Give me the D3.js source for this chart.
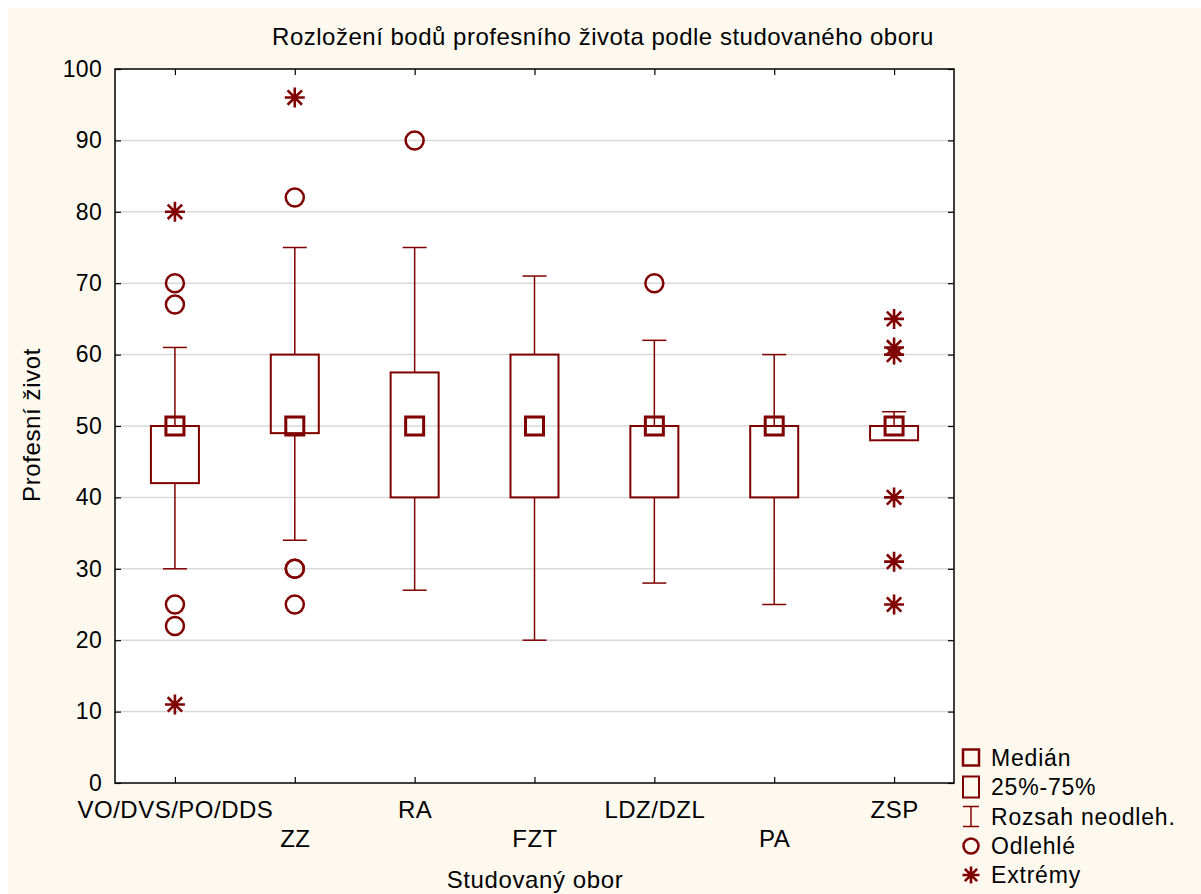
<!DOCTYPE html>
<html>
<head>
<meta charset="utf-8">
<script src="https://cdn.jsdelivr.net/npm/d3@7"></script>
<style>
  html, body { margin: 0; padding: 0; background: #ffffff; }
  svg { display: block; }
  text { font-family: Arial, "Liberation Sans", sans-serif; fill: #000; }
</style>
</head>
<body>
<svg id="chart" width="1201" height="894"></svg>
<script>
// ---- data ----
const categories = ["VO/DVS/PO/DDS", "ZZ", "RA", "FZT", "LDZ/DZL", "PA", "ZSP"];
const medians    = [50, 50, 50, 50, 50, 50, 50];
const q1         = [42, 49, 40, 40, 40, 40, 48];
const q3         = [50, 60, 57.5, 60, 50, 50, 50];
const whiskerLow = [30, 34, 27, 20, 28, 25, 48];
const whiskerHigh= [61, 75, 75, 71, 62, 60, 52];
const outliers   = [[70, 67, 25, 22], [82, 30, 30, 25], [90], [], [70], [], []];
const extremes   = [[80, 11], [96], [], [], [], [], [65, 61, 60, 40, 31, 25]];
const yTicks     = [0, 10, 20, 30, 40, 50, 60, 70, 80, 90, 100];
const legendLabels = ["Medián", "25%-75%", "Rozsah neodleh.", "Odlehlé", "Extrémy"];
const titleText  = "Rozložení bodů profesního života podle studovaného oboru";
const xTitle     = "Studovaný obor";
const yTitle     = "Profesní život";

// ---- layout ----
const C = "#800000";
const svg = d3.select("#chart");
const L = 115, R = 954, T = 69, B = 783;

svg.append("rect").attr("x", 8).attr("y", 8).attr("width", 1201 - 8).attr("height", 894 - 8)
  .attr("fill", "#fef9ef");
svg.append("rect").attr("x", L).attr("y", T).attr("width", R - L).attr("height", B - T)
  .attr("fill", "#ffffff");

const x = d3.scalePoint().domain(categories).range([L, R]).padding(0.5);
const y = d3.scaleLinear().domain([0, 100]).range([B, T]);

// gridlines
svg.append("g").selectAll("line").data(yTicks.filter(d => d > 0 && d < 100)).join("line")
  .attr("x1", L).attr("x2", R).attr("y1", d => y(d)).attr("y2", d => y(d))
  .attr("stroke", "#d9d9d9").attr("stroke-width", 1.5);

// axes
const gl = svg.append("g").attr("transform", `translate(${L},0)`)
  .call(d3.axisLeft(y).tickValues(yTicks).tickSize(-6).tickPadding(13));
gl.selectAll("text").style("font-size", "23px").style("letter-spacing", "0.3px");
const gr = svg.append("g").attr("transform", `translate(${R},0)`)
  .call(d3.axisRight(y).tickValues(yTicks).tickSize(-6).tickFormat(""));
const gt = svg.append("g").attr("transform", `translate(0,${T})`)
  .call(d3.axisTop(x).tickSize(-6).tickFormat(""));
const gb = svg.append("g").attr("transform", `translate(0,${B})`)
  .call(d3.axisBottom(x).tickSize(-6));
gb.selectAll("text").style("font-size", "24px").style("letter-spacing", "0.5px").attr("dy", null)
  .attr("y", (d, i) => i % 2 === 0 ? 35 : 64);
[gl, gr, gt, gb].forEach(g => {
  g.select(".domain").remove();
  g.selectAll("line").attr("stroke", "#000").attr("stroke-width", 1.2);
});

// frame
svg.append("rect").attr("x", L).attr("y", T).attr("width", R - L).attr("height", B - T)
  .attr("fill", "none").attr("stroke", "#000").attr("stroke-width", 1.5);

// boxes
const boxes = svg.append("g");
categories.forEach((c, i) => {
  const cx = x(c);
  const g = boxes.append("g");
  // whiskers
  g.append("line").attr("x1", cx).attr("x2", cx).attr("y1", y(q3[i])).attr("y2", y(whiskerHigh[i]))
    .attr("stroke", C).attr("stroke-width", 1.5);
  g.append("line").attr("x1", cx).attr("x2", cx).attr("y1", y(q1[i])).attr("y2", y(whiskerLow[i]))
    .attr("stroke", C).attr("stroke-width", 1.5);
  [whiskerHigh[i], whiskerLow[i]].forEach(v => {
    g.append("line").attr("x1", cx - 12).attr("x2", cx + 12).attr("y1", y(v)).attr("y2", y(v))
      .attr("stroke", C).attr("stroke-width", 1.5);
  });
  // box
  g.append("rect").attr("x", cx - 24).attr("width", 48)
    .attr("y", y(q3[i])).attr("height", y(q1[i]) - y(q3[i]))
    .attr("fill", "none").attr("stroke", C).attr("stroke-width", 2);
  // median
  g.append("rect").attr("x", cx - 9).attr("y", y(medians[i]) - 9).attr("width", 18).attr("height", 18)
    .attr("fill", "none").attr("stroke", C).attr("stroke-width", 3);
  // outliers
  g.selectAll("circle").data(outliers[i]).join("circle")
    .attr("cx", cx).attr("cy", d => y(d)).attr("r", 9)
    .attr("fill", "none").attr("stroke", C).attr("stroke-width", 2.5);
  // extremes
  g.selectAll("path.ext").data(extremes[i]).join("path").attr("class", "ext")
    .attr("transform", d => `translate(${cx},${y(d)})`)
    .attr("d", asterisk(10))
    .attr("fill", "none").attr("stroke", C).attr("stroke-width", 2.6);
});

function asterisk(s) {
  const d = s * 0.72;
  return `M0,${-s}V${s}M${-s},0H${s}M${-d},${-d}L${d},${d}M${-d},${d}L${d},${-d}`;
}

// titles
svg.append("text").attr("x", 603).attr("y", 45).attr("text-anchor", "middle")
  .style("font-size", "24px").style("letter-spacing", "0.5px").text(titleText);
svg.append("text").attr("x", 535).attr("y", 888).attr("text-anchor", "middle")
  .style("font-size", "24px").style("letter-spacing", "0.6px").text(xTitle);
svg.append("text").attr("transform", "translate(40,425) rotate(-90)").attr("text-anchor", "middle")
  .style("font-size", "24px").style("letter-spacing", "0.6px").text(yTitle);

// legend
const lg = svg.append("g");
const lx = 971;
const rows = [757.5, 787, 816.5, 846, 875];
lg.append("rect").attr("x", lx - 8).attr("y", rows[0] - 8).attr("width", 16).attr("height", 16)
  .attr("fill", "none").attr("stroke", C).attr("stroke-width", 2.5);
lg.append("rect").attr("x", lx - 8).attr("y", rows[1] - 10.5).attr("width", 16).attr("height", 21)
  .attr("fill", "none").attr("stroke", C).attr("stroke-width", 2);
lg.append("path").attr("d", `M${lx},${rows[2] - 10}V${rows[2] + 10}M${lx - 8},${rows[2] - 10}H${lx + 8}M${lx - 8},${rows[2] + 10}H${lx + 8}`)
  .attr("fill", "none").attr("stroke", C).attr("stroke-width", 1.5);
lg.append("circle").attr("cx", lx).attr("cy", rows[3]).attr("r", 7.5)
  .attr("fill", "none").attr("stroke", C).attr("stroke-width", 2.5);
lg.append("path").attr("transform", `translate(${lx},${rows[4]})`).attr("d", asterisk(8.5))
  .attr("fill", "none").attr("stroke", C).attr("stroke-width", 2.6);
lg.selectAll("text").data(legendLabels).join("text")
  .attr("x", 991).attr("y", (d, i) => rows[i] + 8)
  .style("font-size", "23px").style("letter-spacing", "0.8px").text(d => d);
</script>
</body>
</html>
